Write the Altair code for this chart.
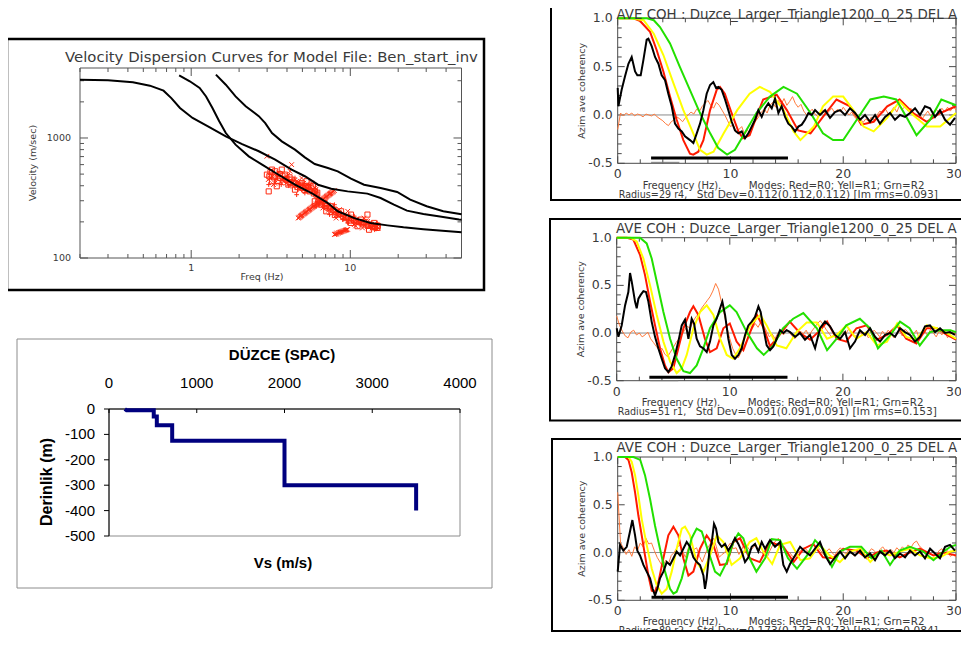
import altair as alt
import pandas as pd

M = 8            # page margin
W, H = 953, 624  # drawing size (kept inside the window)

def px(v):
    return v - M

IDL_FONT = "DejaVu Sans"
XL_FONT = "Liberation Sans"
IDL_TXT = "#3a3a3a"

# ====================== DATA ======================
# --- dispersion curves (freq Hz, velocity m/s)
DISP_A = [(0.20, 3060), (0.30, 3025), (0.43, 2910), (0.55, 2730), (0.67, 2480), (0.75, 2150),
          (0.85, 1780), (1.02, 1470), (1.30, 1230), (1.65, 1030), (2.09, 890), (2.66, 775),
          (3.37, 660), (4.28, 545), (5.18, 480), (6.27, 408), (7.59, 378), (9.62, 359),
          (12.8, 344), (15.5, 316), (18.8, 278), (22.7, 248), (28.8, 233), (36.6, 222),
          (48.2, 209), (50.0, 208)]
DISP_B = [(0.84, 3330), (0.98, 2970), (1.13, 2610), (1.24, 2220), (1.36, 1780), (1.50, 1380),
          (1.65, 1100), (1.90, 880), (2.30, 703), (2.79, 600), (3.54, 494), (4.49, 408),
          (5.70, 348), (7.23, 287), (8.34, 245), (10.6, 215), (13.4, 196), (17.1, 187),
          (21.6, 180), (28.8, 174), (50.0, 164)]
DISP_C = [(1.43, 3370), (1.65, 2780), (1.90, 2220), (2.20, 1840), (2.66, 1520), (2.92, 1330),
          (3.22, 1100), (3.71, 938), (4.49, 800), (5.18, 690), (5.98, 607), (7.23, 562),
          (8.34, 527), (10.1, 458), (12.2, 408), (15.5, 383), (19.7, 355), (23.8, 306),
          (30.2, 270), (38.4, 245), (50.0, 232)]

# --- measured phase velocities (red symbols)
SQUARES = [(2.99, 495), (3.07, 359), (3.22, 436), (3.37, 528), (3.45, 396), (3.62, 464),
           (3.89, 495), (4.08, 409), (4.28, 450), (4.49, 371), (4.71, 409), (5.06, 383),
           (5.31, 436), (5.56, 359), (5.83, 396), (6.12, 337), (3.22, 545), (3.71, 545),
           (3.10, 480), (3.30, 470), (3.50, 440), (3.75, 480), (3.95, 450), (4.15, 470),
           (4.40, 420), (4.65, 390), (4.85, 400), (5.25, 400), (5.45, 390), (5.70, 380),
           (6.00, 360), (3.15, 520), (3.60, 500), (4.20, 430), (4.95, 420), (5.15, 370),
           (5.90, 345), (6.20, 350),
           (5.98, 297), (6.57, 278), (7.06, 245), (7.58, 270), (8.34, 230), (8.75, 245),
           (9.40, 215), (10.1, 230), (10.84, 202), (11.65, 209), (12.51, 190), (12.82, 230),
           (13.44, 190), (14.10, 196), (14.78, 178), (13.12, 172), (11.10, 184), (10.10, 196),
           (6.89, 287), (7.95, 253), (6.30, 300), (6.60, 290), (7.00, 270), (7.30, 260),
           (7.80, 250), (8.10, 240), (8.50, 235), (9.00, 225), (9.60, 220), (10.3, 210),
           (10.6, 205), (11.3, 200), (11.9, 195), (12.2, 200), (12.9, 185), (13.7, 185),
           (14.3, 180), (14.9, 185), (8.00, 228), (9.80, 205)]
CROSSES = [(3.14, 464), (3.29, 409), (3.54, 511), (3.80, 436), (3.99, 464), (4.18, 528),
           (4.38, 396), (4.60, 436), (4.82, 371), (4.94, 464), (5.18, 396), (5.43, 371),
           (5.70, 422), (5.98, 383), (6.27, 316), (4.28, 600), (2.99, 704),
           (3.05, 450), (3.25, 480), (3.45, 500), (3.65, 430), (3.85, 470), (4.05, 490),
           (4.25, 410), (4.45, 440), (4.70, 430), (4.90, 380), (5.10, 420), (5.35, 405),
           (5.60, 395), (5.85, 370), (6.10, 375), (3.35, 420), (3.95, 420), (4.55, 400),
           (5.25, 360),
           (6.27, 278), (6.73, 261), (7.23, 278), (7.77, 237), (8.15, 215), (8.54, 253),
           (9.18, 230), (9.86, 209), (10.34, 215), (11.37, 196), (11.93, 178), (12.82, 202),
           (13.76, 178), (14.44, 190), (12.22, 215), (10.59, 190), (6.42, 306), (9.63, 245),
           (6.50, 295), (6.90, 280), (7.30, 250), (7.60, 262), (8.00, 240), (8.40, 225),
           (8.80, 232), (9.20, 218), (9.90, 220), (10.5, 200), (11.0, 210), (11.6, 195),
           (12.3, 188), (13.0, 192), (13.5, 183), (14.0, 188), (14.6, 182), (15.0, 178),
           (10.8, 185), (12.6, 205),
           (4.71, 215), (4.76, 217), (4.80, 219), (4.85, 222), (4.89, 224), (4.94, 226),
           (4.98, 228), (5.03, 231), (5.08, 233), (5.13, 235), (5.18, 237), (5.23, 240),
           (5.28, 242), (5.33, 244), (5.38, 246), (5.44, 249), (5.49, 251), (5.54, 254),
           (5.59, 256), (5.65, 259), (5.70, 261), (5.76, 264), (5.81, 266), (5.87, 269),
           (5.92, 271), (5.98, 274), (6.03, 276), (6.09, 279), (6.15, 282), (6.21, 285),
           (6.27, 287), (6.33, 290), (6.39, 293), (6.45, 296), (6.51, 298), (6.58, 301),
           (6.64, 304), (6.70, 307), (6.76, 310), (6.83, 313), (6.89, 316), (6.96, 319),
           (7.02, 322), (7.09, 326), (7.16, 329), (7.23, 332), (7.30, 335), (7.37, 339),
           (7.44, 342), (7.51, 345), (7.58, 348), (7.66, 352), (7.73, 355), (7.84, 360),
           (7.95, 364),
           (7.95, 157), (8.05, 158), (8.14, 159), (8.24, 160), (8.34, 161), (8.44, 162),
           (8.54, 163), (8.64, 164), (8.75, 165), (8.85, 166), (8.96, 167), (9.07, 168),
           (9.18, 169), (9.29, 170), (9.40, 171), (9.51, 172), (9.63, 173)]
PLUSES = [(3.07, 409), (3.41, 450), (3.68, 409), (4.04, 436), (4.49, 464), (4.99, 409),
          (5.49, 409), (5.98, 355), (4.60, 337), (5.18, 348),
          (3.20, 470), (3.50, 480), (3.90, 445), (4.30, 440), (4.75, 420), (5.35, 390),
          (5.75, 370), (6.05, 340), (4.10, 400), (3.75, 455),
          (6.12, 270), (6.89, 270), (7.41, 230), (7.95, 278), (8.96, 209), (9.63, 196),
          (10.59, 223), (11.65, 190), (13.12, 196), (14.23, 172), (14.78, 196), (11.10, 209),
          (6.70, 282), (7.20, 262), (7.70, 255), (8.20, 232), (8.70, 222), (9.40, 225),
          (10.2, 205), (10.9, 198), (11.8, 200), (12.6, 192), (13.4, 178), (14.1, 185),
          (14.6, 175), (9.00, 210), (6.40, 290)]

DISP_X_MAJOR = [1, 10]
DISP_X_MAJOR_LAB = ["1", "10"]
DISP_X_MINOR = [0.2, 0.3, 0.4, 0.5, 0.6, 0.7, 0.8, 0.9, 2, 3, 4, 5, 6, 7, 8, 9, 20, 30, 40, 50]
DISP_Y_MAJOR = [100, 1000]
DISP_Y_MAJOR_LAB = ["100", "1000"]
DISP_Y_MINOR = [200, 300, 400, 500, 600, 700, 800, 900, 2000, 3000]

# --- Vs profile (Excel chart)
VS_PROFILE = [(180, 0), (200, -5), (510, -5), (510, -30), (545, -30), (545, -64), (720, -64),
              (720, -125), (2000, -125), (2000, -300), (3500, -300), (3500, -400)]
XL_X_TICKS = [0, 1000, 2000, 3000, 4000]
XL_Y_TICKS = [0, -100, -200, -300, -400, -500]

# --- coherency panels
COH_X_MAJOR = [0, 10, 20, 30]
COH_X_MINOR = [2, 4, 6, 8, 12, 14, 16, 18, 22, 24, 26, 28]
COH_Y_MAJOR = [-0.5, 0.0, 0.5, 1.0]
COH_Y_LAB = ["-0.5", "0.0", "0.5", "1.0"]
COH_Y_MINOR = [-0.4, -0.3, -0.2, -0.1, 0.1, 0.2, 0.3, 0.4, 0.6, 0.7, 0.8, 0.9]

# panel 1 (Radius=29)
BLACK1 = [(0.0, 0.28), (0.06, 0.09), (0.35, 0.26), (0.65, 0.40), (0.95, 0.53), (1.24, 0.60),
          (1.54, 0.45), (1.74, 0.41), (2.04, 0.41), (2.28, 0.57), (2.57, 0.78), (2.72, 0.79),
          (3.02, 0.71), (3.31, 0.60), (3.61, 0.53), (3.90, 0.41), (4.20, 0.36), (4.49, 0.22),
          (4.79, 0.09), (5.08, -0.09), (5.38, -0.14), (5.68, -0.17), (5.97, -0.22), (6.41, -0.26),
          (6.71, -0.29), (7.01, -0.19), (7.30, -0.09), (7.60, 0.05), (7.89, 0.22), (8.19, 0.31),
          (8.48, 0.34), (8.72, 0.28), (8.93, 0.29), (9.22, 0.26), (9.52, 0.16), (9.81, 0.05),
          (10.11, -0.07), (10.40, -0.16), (10.70, -0.19), (11.00, -0.17), (11.29, -0.24),
          (11.59, -0.19), (11.88, -0.12), (12.18, -0.05), (12.47, 0.05), (12.77, -0.02),
          (13.07, 0.07), (13.36, 0.12), (13.66, 0.07), (13.95, 0.17), (14.25, 0.02), (14.54, 0.09),
          (14.84, -0.02), (15.13, -0.09), (15.43, -0.12), (15.73, -0.17), (16.02, -0.12),
          (16.32, -0.10), (16.61, -0.05), (16.91, 0.02), (17.20, 0.00), (17.50, 0.05),
          (17.94, 0.00), (18.39, 0.05), (18.83, -0.03), (19.27, 0.03), (19.72, 0.05),
          (20.16, 0.00), (20.60, 0.07), (21.05, 0.02), (21.49, -0.05), (21.93, 0.00),
          (22.38, -0.07), (22.82, 0.00), (23.26, -0.09), (23.71, -0.02), (24.15, 0.02),
          (24.59, -0.05), (25.04, 0.00), (25.48, -0.02), (25.92, 0.02), (26.37, 0.07),
          (26.81, 0.00), (27.25, 0.09), (27.70, 0.07), (28.14, -0.02), (28.58, 0.05),
          (29.03, -0.05), (29.47, -0.10), (29.91, -0.03)]
ORANGE1 = [-0.15, 0.02, -0.01, 0.02, 0.00, 0.02, -0.01, 0.01, 0.00, -0.02, 0.01, 0.00, -0.01,
           0.01, -0.02, -0.04, -0.06, -0.09, -0.11, -0.07, -0.05, -0.02, -0.04, -0.07, -0.03,
           0.00, 0.03, 0.01, 0.06, 0.04, 0.09, 0.12, 0.15, 0.10, 0.07, 0.13, 0.10,
           0.05, 0.00, -0.06, -0.12, -0.10, -0.18, -0.15, -0.12, -0.20, -0.16, -0.19, -0.10,
           -0.06, -0.02, 0.03, 0.06, 0.02, 0.10, 0.13, 0.08, 0.15, 0.11, 0.17, 0.10,
           0.14, 0.19, 0.12, 0.08, 0.11, 0.04, 0.00, 0.03, 0.06, 0.01, -0.02, 0.03,
           0.05, 0.00, 0.04, 0.07, 0.02, 0.06, 0.03, 0.08, 0.04, 0.00, 0.03, -0.02,
           -0.05, -0.03, -0.08, -0.04, -0.07, -0.02, -0.06, 0.00, 0.04, 0.02, 0.06, 0.01,
           0.04, 0.08, 0.03, 0.10, 0.06, 0.09, 0.04, 0.07, 0.01, -0.02, 0.02, -0.04,
           0.00, 0.04, -0.01, 0.03, 0.06, 0.02, 0.07, 0.03, 0.08, 0.04, 0.09, 0.05]
RED1 = [(0, 1.0), (1.4, 1.0), (2.0, 0.97), (2.87, 0.86), (3.46, 0.67), (4.05, 0.45), (4.64, 0.19),
        (5.23, -0.05), (5.82, -0.26), (6.41, -0.40), (6.7, -0.41), (7.15, -0.38), (7.6, -0.26),
        (8.19, 0.05), (8.78, 0.26), (9.07, 0.29), (9.5, 0.22), (10.1, 0.02), (10.7, -0.17),
        (11.1, -0.24), (11.7, -0.21), (12.3, -0.02), (12.9, 0.16), (14.1, 0.21), (15.0, 0.05),
        (16.0, -0.16), (17.1, -0.19), (18.2, -0.02), (19.4, 0.16), (20.6, 0.09), (21.6, -0.10),
        (22.7, -0.07), (23.9, 0.09), (25.0, 0.16), (26.2, 0.02), (27.4, -0.07), (28.6, 0.02),
        (30.0, 0.09)]
YELLOW1 = [(0, 1.0), (1.2, 1.0), (2.3, 0.98), (3.2, 0.84), (4.05, 0.62), (4.94, 0.33), (5.82, 0.05),
           (6.7, -0.19), (7.3, -0.36), (7.9, -0.41), (8.5, -0.38), (9.4, -0.19), (10.6, 0.05),
           (11.7, 0.22), (12.6, 0.29), (13.5, 0.24), (14.7, 0.05), (15.6, -0.17), (16.2, -0.26),
           (17.4, -0.12), (18.2, 0.09), (19.1, 0.19), (20.0, 0.19), (20.9, 0.05), (21.8, -0.12),
           (22.7, -0.17), (23.9, -0.03), (25.0, 0.14), (26.2, 0.0), (27.4, -0.12), (28.6, -0.12),
           (30.0, 0.02)]
GREEN1 = [(0, 1.0), (2.6, 1.0), (3.2, 0.98), (3.75, 0.91), (4.64, 0.74), (5.5, 0.50), (6.4, 0.26),
          (7.3, 0.02), (8.2, -0.19), (8.9, -0.34), (9.7, -0.41), (10.4, -0.36), (11.1, -0.22),
          (12.3, 0.02), (13.5, 0.19), (14.7, 0.29), (15.9, 0.22), (17.1, 0.02), (18.2, -0.19),
          (19.1, -0.26), (20.0, -0.26), (21.2, -0.05), (22.4, 0.16), (23.6, 0.19), (24.7, 0.16),
          (25.6, -0.02), (26.5, -0.21), (27.7, -0.05), (28.7, 0.16), (30.0, 0.10)]

# panel 2 (Radius=51)
BLACK2 = [(0.0, 0.05), (0.15, -0.04), (0.44, 0.08), (0.74, 0.29), (1.03, 0.43), (1.18, 0.63),
          (1.33, 0.54), (1.62, 0.33), (1.77, 0.26), (1.92, 0.36), (2.12, 0.40), (2.36, 0.44),
          (2.59, 0.43), (2.80, 0.33), (3.09, 0.12), (3.39, -0.04), (3.68, -0.16), (3.98, -0.27),
          (4.27, -0.37), (4.57, -0.41), (4.86, -0.35), (5.16, -0.23), (5.45, -0.09), (5.75, 0.08),
          (6.04, 0.14), (6.34, -0.06), (6.63, 0.15), (6.84, 0.10), (7.07, -0.06), (7.37, -0.14),
          (7.66, -0.16), (7.96, -0.20), (8.25, -0.09), (8.55, 0.08), (8.84, 0.15), (9.14, 0.26),
          (9.34, 0.33), (9.58, 0.19), (9.87, -0.06), (10.17, -0.23), (10.46, -0.27),
          (10.76, -0.23), (11.05, -0.16), (11.35, -0.02), (11.64, 0.08), (11.94, 0.12),
          (12.23, 0.17), (12.53, 0.28), (12.73, 0.22), (12.97, 0.05), (13.26, -0.13),
          (13.56, -0.18), (13.85, -0.14), (14.15, -0.06), (14.44, 0.03), (14.74, 0.00),
          (15.03, 0.03), (15.33, 0.01), (15.77, -0.04), (16.21, 0.00), (16.65, -0.07),
          (17.09, -0.02), (17.54, -0.16), (17.98, 0.05), (18.42, 0.12), (18.86, 0.07),
          (19.30, -0.02), (19.75, -0.06), (20.19, 0.01), (20.63, -0.16), (21.07, -0.09),
          (21.51, 0.03), (21.96, -0.02), (22.40, 0.05), (22.84, -0.04), (23.28, -0.09),
          (23.73, -0.02), (24.17, 0.00), (24.61, -0.04), (25.05, 0.05), (25.49, 0.01),
          (25.94, -0.02), (26.38, -0.09), (26.82, -0.04), (27.26, 0.07), (27.70, 0.08),
          (28.15, 0.01), (28.59, 0.05), (29.03, 0.00), (29.47, 0.01), (29.91, -0.02)]
ORANGE2 = [0.18, 0.08, 0.02, -0.03, -0.05, 0.01, 0.03, -0.02, 0.00, -0.04, -0.02, 0.01, -0.06,
           -0.10, -0.14, -0.18, -0.16, -0.22, -0.25, -0.20, -0.15, -0.10, -0.06, -0.02, 0.03,
           0.07, 0.05, 0.12, 0.17, 0.20, 0.26, 0.30, 0.34, 0.38, 0.44, 0.52, 0.46,
           0.33, 0.20, 0.06, -0.06, -0.16, -0.22, -0.26, -0.20, -0.14, -0.08, 0.00, 0.05,
           0.10, 0.06, 0.12, 0.08, 0.02, -0.04, -0.01, -0.06, 0.00, 0.03, -0.02, 0.04,
           0.01, -0.03, -0.06, -0.02, 0.02, -0.01, 0.03, -0.03, 0.02, 0.06, 0.10, 0.13,
           0.09, 0.04, 0.00, -0.04, -0.02, -0.06, -0.03, 0.02, -0.01, 0.04, 0.00, -0.04,
           -0.02, 0.02, -0.03, 0.01, -0.05, -0.02, 0.03, 0.00, -0.04, 0.02, -0.02, 0.03,
           0.00, -0.05, -0.02, 0.02, -0.03, 0.04, 0.01, -0.04, -0.01, 0.03, -0.06, -0.02,
           0.02, -0.03, 0.04, 0.00, -0.04, 0.02, -0.02, 0.03, -0.05, -0.01, 0.02, -0.03]
RED2 = [(0, 1.0), (0.9, 1.0), (1.47, 0.98), (2.06, 0.82), (2.5, 0.61), (2.95, 0.33), (3.39, 0.08),
        (3.83, -0.16), (4.27, -0.34), (4.57, -0.41), (5.0, -0.37), (5.45, -0.16), (5.9, 0.05),
        (6.48, 0.22), (6.78, 0.28), (7.22, 0.19), (7.8, -0.06), (8.25, -0.20), (8.84, -0.16),
        (9.43, 0.05), (10.0, 0.10), (10.6, -0.09), (11.2, -0.18), (11.8, 0.01), (12.4, 0.19),
        (13.0, 0.05), (13.56, -0.14), (14.4, -0.02), (15.3, 0.12), (16.2, 0.0), (17.1, -0.07),
        (18.0, 0.03), (18.6, 0.12), (19.45, -0.06), (20.3, -0.09), (21.2, 0.05), (22.1, 0.08),
        (23.0, -0.07), (23.9, -0.02), (24.8, 0.08), (25.6, -0.06), (26.5, -0.11), (27.4, 0.05),
        (28.3, 0.05), (29.2, -0.02), (30.0, -0.07)]
YELLOW2 = [(0, 1.0), (1.2, 1.0), (1.77, 0.96), (2.36, 0.78), (2.95, 0.50), (3.54, 0.19),
           (4.13, -0.09), (4.72, -0.30), (5.3, -0.42), (5.75, -0.37), (6.19, -0.23), (6.78, 0.05),
           (7.37, 0.22), (7.96, 0.29), (8.55, 0.19), (9.14, -0.06), (9.73, -0.23), (10.3, -0.27),
           (10.9, -0.16), (11.8, 0.08), (12.7, 0.19), (13.26, 0.08), (14.15, -0.13), (15.0, -0.16),
           (15.9, 0.01), (16.8, 0.11), (17.7, 0.11), (18.6, -0.06), (19.45, -0.02), (20.3, 0.08),
           (21.2, -0.06), (22.1, 0.01), (23.0, -0.13), (23.9, -0.09), (24.8, 0.10), (25.6, -0.04),
           (26.5, -0.07), (27.4, 0.08), (28.3, 0.05), (29.2, 0.0), (30.0, -0.06)]
GREEN2 = [(0, 1.0), (2.06, 1.0), (2.65, 0.94), (3.1, 0.78), (3.54, 0.54), (4.13, 0.22),
          (4.72, -0.06), (5.3, -0.27), (5.9, -0.40), (6.48, -0.42), (7.07, -0.34), (7.66, -0.16),
          (8.25, 0.05), (9.14, 0.22), (10.0, 0.29), (10.6, 0.22), (11.5, 0.01), (12.4, -0.16),
          (13.0, -0.23), (13.85, -0.13), (14.7, 0.05), (15.6, 0.15), (16.5, 0.21), (17.7, 0.05),
          (18.6, -0.18), (19.45, -0.06), (20.3, 0.08), (21.5, 0.15), (22.4, 0.05), (23.1, -0.16),
          (24.2, -0.02), (25.05, 0.12), (25.9, 0.05), (26.8, -0.13), (27.7, 0.01), (28.6, 0.03),
          (29.5, 0.03), (30.0, 0.01)]

# panel 3 (Radius=89)
BLACK3 = [(0.0, -0.20), (0.21, 0.08), (0.50, 0.02), (0.80, 0.06), (1.09, 0.22), (1.30, 0.34),
          (1.54, 0.18), (1.74, 0.02), (1.98, -0.03), (2.28, -0.13), (2.57, -0.20), (2.87, -0.27),
          (3.10, -0.38), (3.31, -0.45), (3.52, -0.38), (3.75, -0.27), (4.05, -0.20), (4.35, -0.10),
          (4.64, -0.13), (4.94, -0.06), (5.23, 0.01), (5.53, -0.03), (5.82, 0.04), (6.12, 0.11),
          (6.41, 0.06), (6.71, -0.05), (7.01, -0.10), (7.30, -0.13), (7.60, -0.24), (7.74, -0.38),
          (7.89, -0.27), (8.13, 0.01), (8.34, 0.11), (8.54, 0.30), (8.72, 0.25), (8.93, 0.11),
          (9.22, 0.06), (9.52, 0.09), (9.81, 0.02), (10.11, 0.08), (10.40, 0.15), (10.70, 0.09),
          (11.00, 0.01), (11.29, -0.10), (11.59, -0.05), (11.88, 0.06), (12.18, 0.09),
          (12.47, 0.01), (12.77, 0.11), (13.07, 0.04), (13.51, 0.13), (13.95, 0.06),
          (14.40, 0.11), (14.69, -0.13), (14.99, -0.20), (15.28, -0.12), (15.73, -0.03),
          (16.17, 0.06), (16.61, 0.01), (17.06, -0.03), (17.50, 0.04), (17.94, 0.11),
          (18.39, -0.03), (18.83, -0.12), (19.27, -0.05), (19.72, 0.01), (20.16, -0.06),
          (20.60, 0.01), (21.05, -0.03), (21.49, 0.02), (21.93, -0.05), (22.38, -0.01),
          (22.82, -0.08), (23.26, 0.01), (23.71, -0.03), (24.15, 0.02), (24.59, -0.06),
          (25.04, -0.01), (25.48, -0.05), (25.92, 0.02), (26.37, -0.03), (26.81, 0.01),
          (27.25, -0.06), (27.70, 0.04), (28.14, -0.01), (28.58, -0.06), (29.03, 0.06),
          (29.47, 0.08), (29.91, 0.02)]
ORANGE3 = [0.63, 0.10, 0.05, -0.02, 0.03, -0.04, 0.06, 0.02, 0.10, 0.06, 0.15, 0.09, 0.10,
           0.02, -0.05, -0.10, -0.15, -0.08, -0.12, -0.03, 0.00, 0.05, 0.08, 0.02, -0.05,
           0.04, 0.10, 0.03, 0.05, -0.04, -0.10, -0.02, 0.05, 0.10, 0.15, 0.06, -0.05,
           -0.02, 0.00, 0.06, 0.10, 0.04, 0.05, -0.02, 0.03, 0.10, 0.06, 0.02, 0.05,
           0.08, 0.03, 0.00, -0.03, -0.05, 0.02, 0.08, 0.12, 0.15, 0.08, 0.05, 0.01,
           0.00, -0.04, -0.05, 0.00, 0.02, 0.05, 0.03, -0.02, 0.01, 0.03, 0.06, 0.02,
           -0.02, 0.01, 0.04, 0.00, -0.03, 0.02, 0.05, 0.01, -0.02, 0.03, 0.00, -0.04,
           0.02, 0.05, 0.01, -0.03, 0.00, 0.04, 0.02, -0.02, 0.03, 0.06, 0.02, -0.01,
           0.03, 0.00, 0.05, 0.02, 0.06, 0.03, 0.08, 0.05, 0.10, 0.12, 0.07, 0.04,
           0.00, -0.02, 0.03, 0.01, -0.03, 0.02, 0.04, -0.01, 0.02, -0.04, -0.02, -0.05]
RED3 = [(0, 1.0), (0.65, 1.0), (0.95, 0.97), (1.24, 0.84), (1.54, 0.63), (1.83, 0.39), (2.13, 0.18),
        (2.42, -0.03), (2.72, -0.24), (3.02, -0.40), (3.31, -0.41), (3.61, -0.31), (4.05, -0.06),
        (4.49, 0.18), (4.94, 0.27), (5.38, 0.18), (5.82, -0.06), (6.27, -0.24), (6.71, -0.20),
        (7.3, 0.04), (7.89, 0.18), (8.48, 0.08), (9.07, -0.13), (9.67, -0.12), (10.26, 0.11),
        (10.85, 0.15), (11.7, -0.06), (12.6, -0.10), (13.5, 0.11), (14.7, 0.06), (15.6, -0.10),
        (16.5, 0.04), (17.35, 0.09), (18.2, -0.05), (19.1, -0.06), (20.0, 0.04), (21.2, 0.02),
        (22.1, -0.06), (23.0, 0.0), (23.85, 0.02), (25.0, -0.05), (25.9, 0.0), (26.8, 0.04),
        (28.0, -0.03), (28.9, 0.0), (30.0, -0.03)]
YELLOW3 = [(0, 1.0), (0.95, 1.0), (1.24, 0.95), (1.54, 0.81), (1.83, 0.60), (2.13, 0.35),
           (2.57, 0.08), (3.02, -0.17), (3.46, -0.34), (3.9, -0.43), (4.35, -0.38), (4.79, -0.20),
           (5.23, 0.04), (5.68, 0.25), (5.97, 0.27), (6.41, 0.18), (7.0, -0.10), (7.6, -0.20),
           (8.19, -0.03), (8.78, 0.18), (9.37, 0.11), (10.1, -0.13), (10.85, -0.06), (11.7, 0.11),
           (12.3, 0.15), (12.9, 0.01), (13.7, -0.12), (14.4, 0.08), (15.3, 0.11), (16.2, -0.08),
           (17.05, -0.06), (17.9, 0.08), (18.8, -0.03), (19.7, -0.10), (20.6, 0.01), (21.5, 0.04),
           (22.4, -0.10), (23.3, 0.01), (24.15, -0.03), (25.0, 0.01), (25.9, 0.04), (26.8, -0.03),
           (27.7, -0.06), (28.6, -0.05), (29.5, 0.01), (30.0, 0.02)]
GREEN3 = [(0, 1.0), (1.4, 1.0), (2.0, 0.97), (2.42, 0.81), (2.87, 0.56), (3.31, 0.28), (3.75, 0.04),
          (4.2, -0.20), (4.64, -0.38), (4.94, -0.43), (5.23, -0.41), (5.68, -0.27), (6.12, -0.06),
          (6.56, 0.15), (7.0, 0.25), (7.45, 0.22), (8.04, 0.01), (8.63, -0.20), (9.07, -0.24),
          (9.67, -0.10), (10.26, 0.11), (10.7, 0.20), (11.14, 0.15), (11.7, -0.06), (12.3, -0.20),
          (13.07, -0.06), (13.66, 0.14), (14.4, 0.13), (15.1, -0.06), (15.9, -0.17), (16.8, -0.03),
          (17.5, 0.13), (18.2, 0.04), (19.0, -0.15), (19.7, 0.01), (20.6, 0.06), (21.6, 0.06),
          (22.5, -0.06), (23.4, 0.02), (24.15, -0.13), (25.0, 0.02), (25.9, 0.06), (27.1, 0.01),
          (28.0, -0.08), (28.9, 0.01), (29.5, 0.06), (30.0, 0.08)]

# frequency band bars (f start, f end, level)
BAR1, GRAY1 = (2.96, 15.1, -0.445), (2.96, 5.47, -0.49)
BAR2, GRAY2 = (2.89, 15.1, -0.465), (2.95, 5.45, -0.50)
BAR3, GRAY3 = (3.0, 15.1, -0.468), (3.0, 5.5, -0.50)

COH_TITLE = "AVE COH : Duzce_Larger_Triangle1200_0_25 DEL A"
COH_INFO = [("Radius=29 r4,", "Std Dev=0.112(0.112,0.112) [Im rms=0.093]"),
            ("Radius=51 r1,", "Std Dev=0.091(0.091,0.091) [Im rms=0.153]"),
            ("Radius=89 r2,", "Std Dev=0.173(0.173,0.173) [Im rms=0.084]")]

# ====================== HELPERS ======================
def one():
    return alt.Chart(pd.DataFrame({"k": [0]}))


def box(x0, y0, x1, y1, color, width):
    return one().mark_rect(filled=False, stroke=color, strokeWidth=width).encode(
        x=alt.value(px(x0)), x2=alt.value(px(x1)), y=alt.value(px(y0)), y2=alt.value(px(y1)))


def hline(x0, x1, y, color, width=1):
    return one().mark_rule(color=color, strokeWidth=width).encode(
        x=alt.value(px(x0)), x2=alt.value(px(x1)), y=alt.value(px(y)))


def vline(x, y0, y1, color, width=1):
    return one().mark_rule(color=color, strokeWidth=width).encode(
        x=alt.value(px(x)), y=alt.value(px(y0)), y2=alt.value(px(y1)))


def label(s, x, y, size=12, align="left", baseline="middle", angle=0, weight="normal",
          font=IDL_FONT, color=IDL_TXT, **kw):
    return one().mark_text(text=s, align=align, baseline=baseline, angle=angle, fontSize=size,
                           fontWeight=weight, font=font, color=color, **kw).encode(
        x=alt.value(px(x)), y=alt.value(px(y)))


def X(scale, field):
    return alt.X(f"{field}:Q", scale=scale, axis=None)


def Y(scale, field):
    return alt.Y(f"{field}:Q", scale=scale, axis=None)


def xticks(vals, sx, y0, y1, color):
    return alt.Chart(pd.DataFrame({"t": vals})).mark_rule(color=color, strokeWidth=1).encode(
        x=X(sx, "t"), y=alt.value(px(y0)), y2=alt.value(px(y1)))


def yticks(vals, sy, x0, x1, color):
    return alt.Chart(pd.DataFrame({"t": vals})).mark_rule(color=color, strokeWidth=1).encode(
        y=Y(sy, "t"), x=alt.value(px(x0)), x2=alt.value(px(x1)))


def xlabels(vals, labs, sx, y, **kw):
    return alt.Chart(pd.DataFrame({"t": vals, "lab": labs})).mark_text(**kw).encode(
        x=X(sx, "t"), y=alt.value(px(y)), text="lab:N")


def ylabels(vals, labs, sy, x, **kw):
    return alt.Chart(pd.DataFrame({"t": vals, "lab": labs})).mark_text(**kw).encode(
        y=Y(sy, "t"), x=alt.value(px(x)), text="lab:N")


def path(pairs, sx, sy, color, width, **kw):
    df = pd.DataFrame(pairs, columns=["f", "v"])
    df["i"] = range(len(df))
    return alt.Chart(df).mark_line(color=color, strokeWidth=width, **kw).encode(
        x=X(sx, "f"), y=Y(sy, "v"), order="i:Q")


def grid_path(vals, step, sx, sy, color, width, **kw):
    freqs = [round(i * step, 3) for i in range(len(vals))]
    return path(list(zip(freqs, vals)), sx, sy, color, width, **kw)


def symbols(pairs, shape, sx, sy, size=24):
    df = pd.DataFrame(pairs, columns=["f", "v"])
    return alt.Chart(df).mark_point(shape=shape, filled=False, color="#ff2a10", size=size,
                                    strokeWidth=1, opacity=1).encode(x=X(sx, "f"), y=Y(sy, "v"))


# ====================== DISPERSION PANEL ======================
DX0, DX1, DYT, DYB = 80, 461.5, 68, 258
DSX = alt.Scale(type="log", domain=[0.2, 50], range=[px(DX0), px(DX1)], nice=False)
DSY = alt.Scale(type="log", domain=[100, 3830], range=[px(DYB), px(DYT)], nice=False)
AX_GRAY = "#555555"

disp = alt.layer(
    box(DX0, DYT, DX1, DYB, AX_GRAY, 1),
    xticks(DISP_X_MAJOR, DSX, DYB, DYB - 8, AX_GRAY),
    xticks(DISP_X_MAJOR, DSX, DYT, DYT + 8, AX_GRAY),
    xticks(DISP_X_MINOR, DSX, DYB, DYB - 4, AX_GRAY),
    xticks(DISP_X_MINOR, DSX, DYT, DYT + 4, AX_GRAY),
    yticks(DISP_Y_MAJOR, DSY, DX0, DX0 + 8, AX_GRAY),
    yticks(DISP_Y_MAJOR, DSY, DX1, DX1 - 8, AX_GRAY),
    yticks(DISP_Y_MINOR, DSY, DX0, DX0 + 4, AX_GRAY),
    yticks(DISP_Y_MINOR, DSY, DX1, DX1 - 4, AX_GRAY),
    xlabels(DISP_X_MAJOR, DISP_X_MAJOR_LAB, DSX, 268, align="center", baseline="middle",
            font=IDL_FONT, fontSize=9.5, color=IDL_TXT),
    ylabels(DISP_Y_MAJOR, DISP_Y_MAJOR_LAB, DSY, 71, align="right", baseline="middle",
            font=IDL_FONT, fontSize=9.5, color=IDL_TXT),
    symbols(SQUARES, "square", DSX, DSY, 26),
    symbols(CROSSES, "M-1,-1L1,1M-1,1L1,-1", DSX, DSY, 22),
    symbols(PLUSES, "M-1,0L1,0M0,-1L0,1", DSX, DSY, 22),
    path(DISP_A, DSX, DSY, "black", 2),
    path(DISP_B, DSX, DSY, "black", 2),
    path(DISP_C, DSX, DSY, "black", 2),
)
disp_deco = [
    box(7, 39, 484, 290, "black", 2.5),
    label("Velocity Dispersion Curves for Model File: Ben_start_inv", 65, 58, size=14.9,
          limit=414, ellipsis=" "),
    label("Freq (Hz)", 262, 277, size=9.5, align="center"),
    label("Velocity (m/sec)", 33, 163, size=9.5, align="center", angle=270),
]

# ====================== EXCEL Vs PANEL ======================
EX0, EX1, EYT, EYB = 109, 460, 409, 536
ESX = alt.Scale(domain=[0, 4000], range=[px(EX0), px(EX1)], nice=False, zero=False)
ESY = alt.Scale(domain=[-500, 0], range=[px(EYB), px(EYT)], nice=False, zero=False)

excel = alt.layer(
    box(EX0, EYT, EX1, EYB, "#8c8c8c", 1),
    hline(EX0, EX1, EYT, "black", 1),
    vline(EX0, EYT, EYB, "black", 1),
    xticks(XL_X_TICKS, ESX, EYT, EYT + 4, "black"),
    yticks(XL_Y_TICKS, ESY, EX0 - 5, EX0, "black"),
    xlabels(XL_X_TICKS, [str(v) for v in XL_X_TICKS], ESX, 383, align="center", baseline="middle",
            font=XL_FONT, fontSize=15, color="black"),
    ylabels(XL_Y_TICKS, [str(v) for v in XL_Y_TICKS], ESY, 95, align="right", baseline="middle",
            font=XL_FONT, fontSize=15, color="black"),
    path(VS_PROFILE, ESX, ESY, "#00007f", 4, strokeJoin="miter"),
)
excel_deco = [
    box(17, 339, 492, 588, "#8c8c8c", 1),
    label("DÜZCE (SPAC)", 282, 355, size=15, align="center", weight="bold", font=XL_FONT, color="black"),
    label("Vs (m/s)", 283, 563, size=15, align="center", weight="bold", font=XL_FONT, color="black"),
    label("Derinlik (m)", 47, 482, size=16, align="center", angle=270, weight="bold", font=XL_FONT,
          color="black"),
]


# ====================== COHERENCY PANELS ======================
def coh_panel(geom, frame, title_y, text_shift, black, orange, red, yellow, green, bar, gray, info):
    x0, x1, yt, yb = geom
    sx = alt.Scale(domain=[0, 30], range=[px(x0), px(x1)], nice=False, zero=False)
    sy = alt.Scale(domain=[-0.5, 1.0], range=[px(yb), px(yt)], nice=False, zero=False)
    bars = pd.DataFrame({"a": [bar[0]], "b": [bar[1]], "y": [bar[2]]})
    grays = pd.DataFrame({"a": [gray[0]], "b": [gray[1]], "y": [gray[2]]})
    zero = pd.DataFrame({"a": [0], "b": [30], "y": [0.0]})
    ax = "#4a4a4a"
    lab_kw = dict(baseline="middle", font=IDL_FONT, fontSize=12.5, color=IDL_TXT)
    panel = alt.layer(
        box(x0, yt, x1, yb, ax, 1),
        xticks(COH_X_MAJOR, sx, yb, yb - 7, ax),
        xticks(COH_X_MAJOR, sx, yt, yt + 7, ax),
        xticks(COH_X_MINOR, sx, yb, yb - 4, ax),
        xticks(COH_X_MINOR, sx, yt, yt + 4, ax),
        yticks(COH_Y_MAJOR, sy, x0, x0 + 7, ax),
        yticks(COH_Y_MAJOR, sy, x1, x1 - 7, ax),
        yticks(COH_Y_MINOR, sy, x0, x0 + 4, ax),
        yticks(COH_Y_MINOR, sy, x1, x1 - 4, ax),
        alt.Chart(zero).mark_rule(color="#8a8a8a", strokeWidth=1).encode(
            x=X(sx, "a"), x2="b:Q", y=Y(sy, "y")),
        xlabels(COH_X_MAJOR[:-1], [str(v) for v in COH_X_MAJOR[:-1]], sx, yb + 11,
                align="center", **lab_kw),
        # last label kept inside the drawing edge
        xlabels(COH_X_MAJOR[-1:], [str(v) for v in COH_X_MAJOR[-1:]], sx, yb + 11,
                align="right", dx=6, **lab_kw),
        ylabels(COH_Y_MAJOR, COH_Y_LAB, sy, x0 - 5, align="right", **lab_kw),
        grid_path(orange, 0.25, sx, sy, "#ff7a3c", 1),
        path(red, sx, sy, "#ff1a00", 2),
        path(yellow, sx, sy, "#ffff00", 2),
        path(green, sx, sy, "#22e000", 2),
        path(black, sx, sy, "black", 2),
        alt.Chart(grays).mark_rule(color="#777777", strokeWidth=1).encode(
            x=X(sx, "a"), x2="b:Q", y=Y(sy, "y")),
        alt.Chart(bars).mark_rule(color="black", strokeWidth=3).encode(
            x=X(sx, "a"), x2="b:Q", y=Y(sy, "y")),
    )
    fx0, fy0, fy1 = frame
    mid = (x0 + x1) / 2
    t1 = yb + 22.5 + text_shift
    t2 = yb + 31.5 + text_shift
    deco = [
        label(COH_TITLE, mid, title_y, size=13.4, align="center"),
        label("Azim ave coherency", x0 - 36, (yt + yb) / 2, size=9.5, align="center", angle=270),
        label("Frequency (Hz).", x0 + 25, t1, size=10),
        label("Modes: Red=R0; Yell=R1; Grn=R2", x0 + 131, t1, size=10.3),
        label(info[0], x0 + 1, t2, size=9.6),
        label(info[1], x0 + 79, t2, size=10.6),
        box(fx0, fy0, 985, fy1, "black", 2),
    ]
    return panel, deco


p1, d1 = coh_panel((617.7, 956, 18.3, 163.3), (551, 4, 200), 15, 0, BLACK1, ORANGE1, RED1,
                   YELLOW1, GREEN1, BAR1, GRAY1, COH_INFO[0])
p2, d2 = coh_panel((616.7, 956, 237.7, 380.7), (550, 219, 420.5), 228.5, 0, BLACK2, ORANGE2, RED2,
                   YELLOW2, GREEN2, BAR2, GRAY2, COH_INFO[1])
p3, d3 = coh_panel((617.7, 956, 457, 600.3), (552, 439, 631), 447.5, -1, BLACK3, ORANGE3, RED3,
                   YELLOW3, GREEN3, BAR3, GRAY3, COH_INFO[2])

chart = alt.layer(
    disp, excel, p1, p2, p3,
    *disp_deco, *excel_deco, *d1, *d2, *d3,
).resolve_scale(x="independent", y="independent").properties(
    width=W, height=H, padding=0, autosize=alt.AutoSizeParams(type="none"),
    background="white",
).configure_view(stroke=None)

chart.save("out.html", embed_options={"renderer": "svg", "actions": False})
